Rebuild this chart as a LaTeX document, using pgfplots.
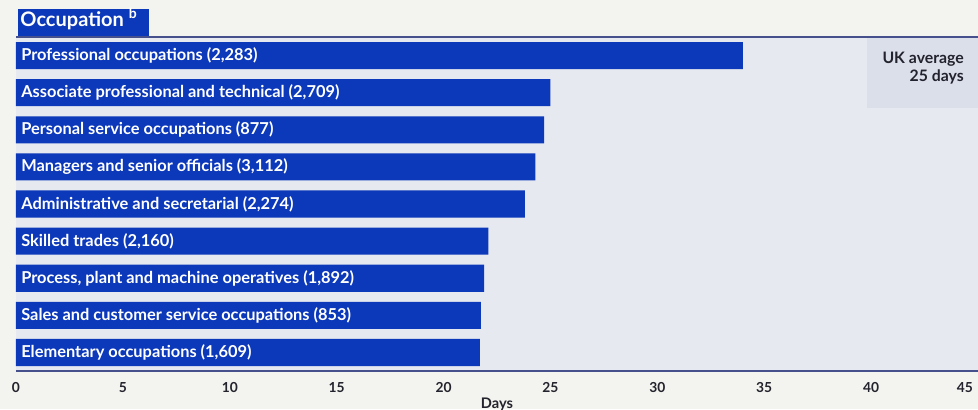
\documentclass[border=0pt]{standalone}
\usepackage{pgfplots}
\pgfplotsset{compat=1.18}
\usepackage{fontspec}
\setmainfont{Lato}
\usetikzlibrary{calc}
\definecolor{barblue}{RGB}{12,56,186}
\definecolor{panel}{RGB}{230,233,239}
\definecolor{pagebg}{RGB}{243,243,239}
\definecolor{ukbox}{RGB}{219,223,234}
\definecolor{linecol}{RGB}{70,80,140}
\definecolor{txtdark}{RGB}{35,35,45}
\begin{document}
\begin{tikzpicture}[x=1pt,y=1pt]
\fill[pagebg] (0,0) rectangle (489,204.5);
\begin{axis}[
  at={(8pt,19pt)}, anchor=south west,
  width=481pt, height=167pt, scale only axis,
  xmin=0, xmax=45, ymin=0.5, ymax=9.5, y dir=reverse,
  xbar, bar width=0.73, bar shift=0pt,
  xtick={0,5,...,40}, ytick=\empty,
  extra x ticks={45},
  extra x tick style={xticklabel style={anchor=north east, xshift=1pt}},
  major tick length=0pt,
  axis line style={draw=none},
  axis background/.style={fill=panel},
  /pgf/number format/assume math mode=true,
  xticklabel style={font=\bfseries\fontsize{6.9}{7}\selectfont, text=txtdark, yshift=-2pt},
  xlabel={Days},
  xlabel style={font=\bfseries\fontsize{7.3}{8}\selectfont, text=txtdark, anchor=center, at={(rel axis cs:0.5,0)}, yshift=-16.5pt},
  clip=false,
]
\fill[ukbox] (axis cs:39.8,0.5) rectangle (axis cs:45,2.41);
\addplot[fill=barblue, draw=none] coordinates {
 (34.0,1) (25.0,2) (24.7,3) (24.3,4) (23.8,5) (22.1,6) (21.9,7) (21.75,8) (21.7,9)};
\draw[linecol, line width=0.6pt] (axis cs:0,0.5) -- (axis cs:45,0.5);
\draw[linecol, line width=0.6pt] (axis cs:0,9.5) -- (axis cs:45,9.5);
\coordinate (TL) at (axis cs:0.09,0.5);
\coordinate (TR) at (axis cs:6.22,0.5);
\coordinate (TT) at (axis cs:0.19,0.5);
\node[anchor=north east, inner sep=0pt, align=right, text=txtdark, font=\bfseries\fontsize{7.9}{9}\selectfont] at (axis cs:44.35,0.9) {UK average\\25 days};
\begin{scope}[every node/.style={anchor=west, inner sep=0pt, text=white, font=\bfseries\fontsize{8.2}{9}\selectfont}]
\node at (axis cs:0.23,1) {Professional occupations (2,283)};
\node at (axis cs:0.23,2) {Associate professional and technical (2,709)};
\node at (axis cs:0.23,3) {Personal service occupations (877)};
\node at (axis cs:0.23,4) {Managers and senior officials (3,112)};
\node at (axis cs:0.23,5) {Administrative and secretarial (2,274)};
\node at (axis cs:0.23,6) {Skilled trades (2,160)};
\node at (axis cs:0.23,7) {Process, plant and machine operatives (1,892)};
\node at (axis cs:0.23,8) {Sales and customer service occupations (853)};
\node at (axis cs:0.23,9) {Elementary occupations (1,609)};
\end{scope}
\end{axis}
\fill[barblue] ($(TL)+(0,0.5pt)$) rectangle ($(TR)+(0,14pt)$);
\node[anchor=base west, inner sep=0pt, text=white, font=\bfseries\fontsize{10}{11}\selectfont] at ($(TT)+(0,5.5pt)$) {Occupation \textsuperscript{b}};
\pgfresetboundingbox
\useasboundingbox (0,0) rectangle (489,204.5);
\end{tikzpicture}
\end{document}
